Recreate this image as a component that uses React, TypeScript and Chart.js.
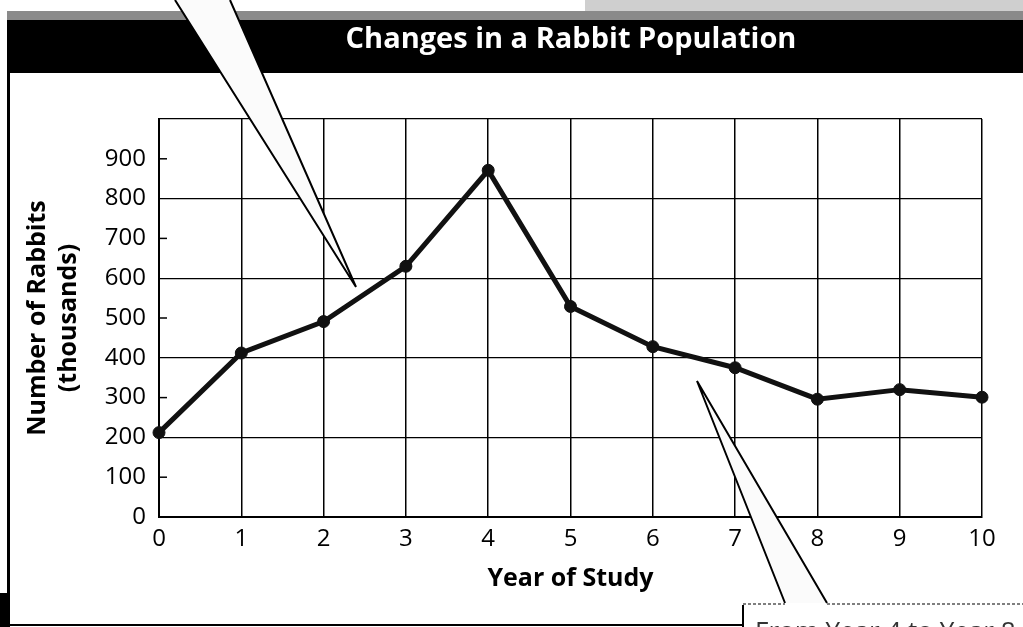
import React, { useEffect, useRef } from 'react';
import { Chart, registerables } from 'chart.js';

Chart.register(...registerables);

const years = ['0', '1', '2', '3', '4', '5', '6', '7', '8', '9', '10'];
const rabbits = [212, 412, 491, 630, 871, 529, 428, 375, 296, 320, 301];
const yMajor = [0, 200, 400, 600, 800, 1000];
const yMinor = [100, 300, 500, 700, 900];
const yHiddenLabels = [1000];
const chartTitle = 'Changes in a Rabbit Population';
const yTitle = ['Number of Rabbits', '(thousands)'];
const xTitle = 'Year of Study';
const calloutText = 'From Year 4 to Year 8';

const FONT = "'Open Sans', 'Noto Sans', sans-serif";

const decor = {
  id: 'decor',
  beforeDraw(chart: any) {
    const ctx = chart.ctx;
    ctx.save();
    ctx.fillStyle = '#ffffff';
    ctx.fillRect(0, 0, chart.width, chart.height);
    // speckled scan area at the top right
    ctx.fillStyle = '#cfcfcf';
    ctx.fillRect(585, 0, chart.width - 585, 11);
    // textured band + black title bar
    ctx.fillStyle = '#8a8a8a';
    ctx.fillRect(7, 11, chart.width - 7, 9);
    ctx.fillStyle = '#000000';
    ctx.fillRect(7, 20, chart.width - 7, 53);
    ctx.fillStyle = '#ffffff';
    ctx.font = `bold 29px ${FONT}`;
    ctx.textAlign = 'center';
    ctx.textBaseline = 'alphabetic';
    ctx.fillText(chartTitle, 571, 48);
    // left border
    ctx.fillStyle = '#000000';
    ctx.fillRect(7, 73, 3, chart.height - 73);
    ctx.fillRect(0, 593, 9, chart.height - 593);
    ctx.restore();
  },
  afterDraw(chart: any) {
    const ctx = chart.ctx;
    const ys = chart.scales.y;
    const area = chart.chartArea;
    ctx.save();
    // minor ticks inside plot
    ctx.strokeStyle = '#000';
    ctx.lineWidth = 1.5;
    yMinor.forEach((v) => {
      const py = ys.getPixelForValue(v);
      ctx.beginPath();
      ctx.moveTo(area.left, py);
      ctx.lineTo(area.left + 8, py);
      ctx.stroke();
    });
    // callout wedges
    const wedge = (pts: number[][]) => {
      ctx.beginPath();
      ctx.moveTo(pts[0][0], pts[0][1]);
      ctx.lineTo(pts[1][0], pts[1][1]);
      ctx.lineTo(pts[2][0], pts[2][1]);
      ctx.closePath();
      ctx.fillStyle = '#fbfbfb';
      ctx.fill();
      ctx.beginPath();
      ctx.moveTo(pts[0][0], pts[0][1]);
      ctx.lineTo(pts[1][0], pts[1][1]);
      ctx.lineTo(pts[2][0], pts[2][1]);
      ctx.strokeStyle = '#000';
      ctx.lineWidth = 2;
      ctx.stroke();
    };
    wedge([[175, 0], [356, 287], [230, 0]]);
    wedge([[785, 603], [697, 381], [827, 603]]);
    // bottom box
    ctx.strokeStyle = '#000';
    ctx.lineWidth = 2;
    ctx.beginPath();
    ctx.moveTo(0, 625);
    ctx.lineTo(743, 625);
    ctx.moveTo(743, 605);
    ctx.lineTo(743, 627);
    ctx.stroke();
    ctx.strokeStyle = '#555';
    ctx.lineWidth = 1.5;
    ctx.setLineDash([3, 2]);
    ctx.beginPath();
    ctx.moveTo(743, 604);
    ctx.lineTo(785, 604);
    ctx.moveTo(827, 604);
    ctx.lineTo(chart.width, 604);
    ctx.stroke();
    ctx.setLineDash([]);
    ctx.fillStyle = '#333';
    ctx.font = `26px ${FONT}`;
    ctx.textAlign = 'left';
    ctx.textBaseline = 'top';
    ctx.fillText(calloutText, 755, 620);
    ctx.restore();
  },
};

export default function App() {
  const ref = useRef<HTMLCanvasElement>(null);
  useEffect(() => {
    if (!ref.current) return;
    Chart.defaults.font.family = FONT;
    const chart = new Chart(ref.current, {
      type: 'line',
      data: {
        labels: years,
        datasets: [
          {
            data: rabbits,
            borderColor: '#111',
            borderWidth: 5,
            pointRadius: 6,
            pointBackgroundColor: '#111',
            pointBorderColor: '#111',
            pointBorderWidth: 1,
            tension: 0,
            clip: false as any,
          },
        ],
      },
      options: {
        animation: false,
        responsive: false,
        events: [],
        layout: { padding: { left: 0, top: 119, right: 41, bottom: 0 } },
        plugins: { legend: { display: false }, title: { display: false }, tooltip: { enabled: false } },
        scales: {
          x: {
            type: 'category',
            offset: false,
            grid: { color: '#000', lineWidth: 1.5, drawTicks: false, offset: false },
            border: { color: '#000', width: 2 },
            ticks: { color: '#000', font: { size: 24 }, padding: 8, maxRotation: 0, autoSkip: false },
            title: { display: true, text: xTitle, color: '#000', font: { size: 25, weight: 'bold' }, padding: { bottom: 33 } },
            afterFit: (s: any) => { s.height = 110; },
          },
          y: {
            min: 0,
            max: 1000,
            grid: {
              drawTicks: false,
              lineWidth: 1.2,
              color: (c: any) => (yMajor.includes(c.tick?.value) ? '#000' : 'rgba(0,0,0,0)'),
            },
            border: { color: '#000', width: 2 },
            ticks: {
              stepSize: 100,
              color: '#000',
              font: { size: 24 },
              padding: 13,
              callback: (v: any) => (yHiddenLabels.includes(Number(v)) ? '' : String(v)),
            },
            title: { display: true, text: yTitle, color: '#000', font: { size: 25, weight: 'bold', lineHeight: 1.25 }, padding: { top: 22 } },
            afterFit: (s: any) => { s.width = 159; },
          },
        },
      },
      plugins: [decor],
    } as any);
    return () => chart.destroy();
  }, []);
  return (
    <div style={{ position: 'absolute', left: 0, top: 0, width: 1023, height: 627 }}>
      <canvas ref={ref} width={1023} height={627} style={{ display: 'block' }} />
    </div>
  );
}
